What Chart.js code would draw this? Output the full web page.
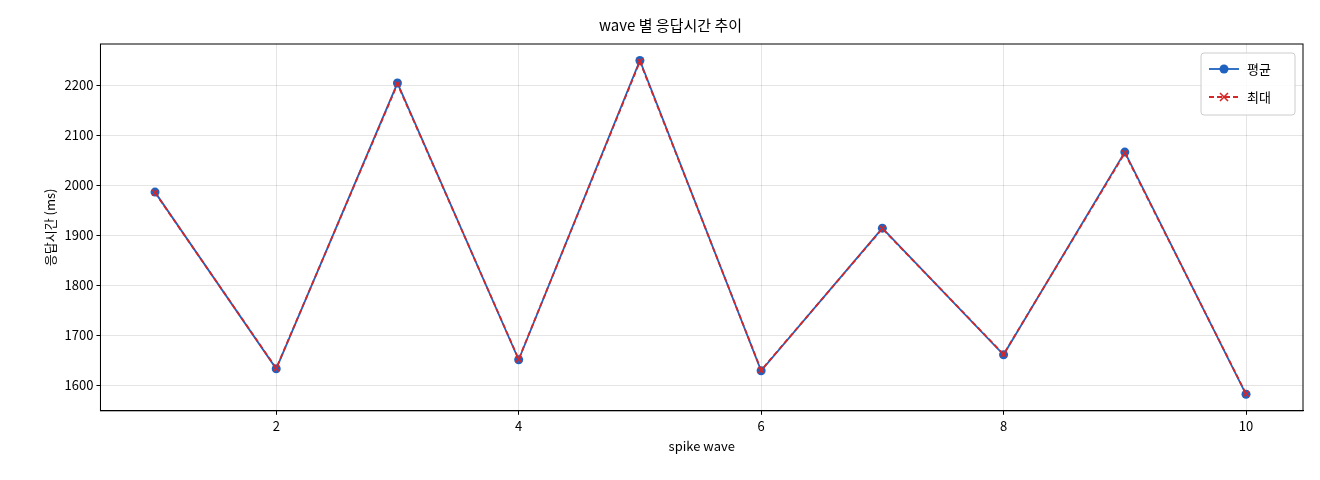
<!DOCTYPE html>
<html><head><meta charset="utf-8">
<script src="https://cdn.jsdelivr.net/npm/chart.js@4"></script>
<style>body{margin:0;background:#fff}#w{width:1320px;height:480px}</style>
</head><body><div id="w"><canvas id="c"></canvas></div>
<script>
const waves=[1,2,3,4,5,6,7,8,9,10];
const avgMs=[1986,1633,2204,1651,2249,1629,1914,1661,2066,1582];
const maxMs=[1985,1634,2202,1652,2247,1630,1913,1662,2064,1583];
const xTicks=[2,4,6,8,10];
const yTicks=[1600,1700,1800,1900,2000,2100,2200];
const F="'Noto Sans CJK KR','DejaVu Sans',sans-serif";
const grid={color:'rgba(0,0,0,0.1)',drawTicks:true,tickLength:4,tickColor:'#000'};
const boxLegend={id:'boxLegend',afterDraw(c){
 const a=c.chartArea,x=c.ctx;x.save();
 x.strokeStyle='#000';x.lineWidth=1;x.strokeRect(a.left,a.top,a.right-a.left,a.bottom-a.top);
 const w=94,h=62,lx=a.right-w-8,ly=a.top+9;
 x.fillStyle='rgba(255,255,255,0.85)';x.strokeStyle='#ccc';x.beginPath();x.roundRect(lx,ly,w,h,3);x.fill();x.stroke();
 c.data.datasets.forEach((d,i)=>{const y=ly+16+i*28;
  x.strokeStyle=d.borderColor;x.lineWidth=1.8;x.setLineDash(d.borderDash||[]);
  x.beginPath();x.moveTo(lx+8,y);x.lineTo(lx+38,y);x.stroke();x.setLineDash([]);
  x.fillStyle=d.borderColor;
  if(i==0){x.beginPath();x.arc(lx+23,y,4.5,0,7);x.fill();}
  else{x.lineWidth=1.6;x.beginPath();x.moveTo(lx+19,y-4);x.lineTo(lx+27,y+4);x.moveTo(lx+27,y-4);x.lineTo(lx+19,y+4);x.stroke();}
  x.fillStyle='#000';x.font='13px '+F;x.textBaseline='middle';x.fillText(d.label,lx+46,y);});
 x.restore();}};
new Chart(document.getElementById('c'),{type:'line',
data:{datasets:[
{label:'평균',order:2,data:waves.map((x,i)=>({x,y:avgMs[i]})),borderColor:'#1f62c0',backgroundColor:'#1f62c0',borderWidth:1.8,pointStyle:'circle',pointRadius:4.5,pointBorderWidth:0,tension:0},
{label:'최대',order:1,data:waves.map((x,i)=>({x,y:maxMs[i]})),borderColor:'#d62728',backgroundColor:'#d62728',borderWidth:1.8,borderDash:[5,3],pointStyle:'crossRot',pointRadius:4,pointBorderWidth:1.6,tension:0}]},
options:{responsive:true,maintainAspectRatio:false,animation:false,
layout:{padding:{left:38,right:17,top:12,bottom:22}},
plugins:{title:{display:true,text:'wave 별 응답시간 추이',color:'#000',font:{family:F,size:15,weight:'normal'},padding:{top:4,bottom:10}},
legend:{display:false},tooltip:{enabled:false}},
scales:{x:{type:'linear',min:0.55,max:10.47,afterBuildTicks:a=>{a.ticks=xTicks.map(v=>({value:v}))},grid,border:{color:'#000'},ticks:{color:'#000',font:{family:F,size:13},callback:v=>String(v)},
title:{display:true,text:'spike wave',color:'#000',font:{family:F,size:13},padding:{top:2}}},
y:{min:1549,max:2282,afterBuildTicks:a=>{a.ticks=yTicks.map(v=>({value:v}))},grid,border:{color:'#000'},ticks:{color:'#000',font:{family:F,size:13},callback:v=>String(v)},
title:{display:true,text:'응답시간 (ms)',color:'#000',font:{family:F,size:13}}}}},
plugins:[boxLegend]
});
</script></body></html>
